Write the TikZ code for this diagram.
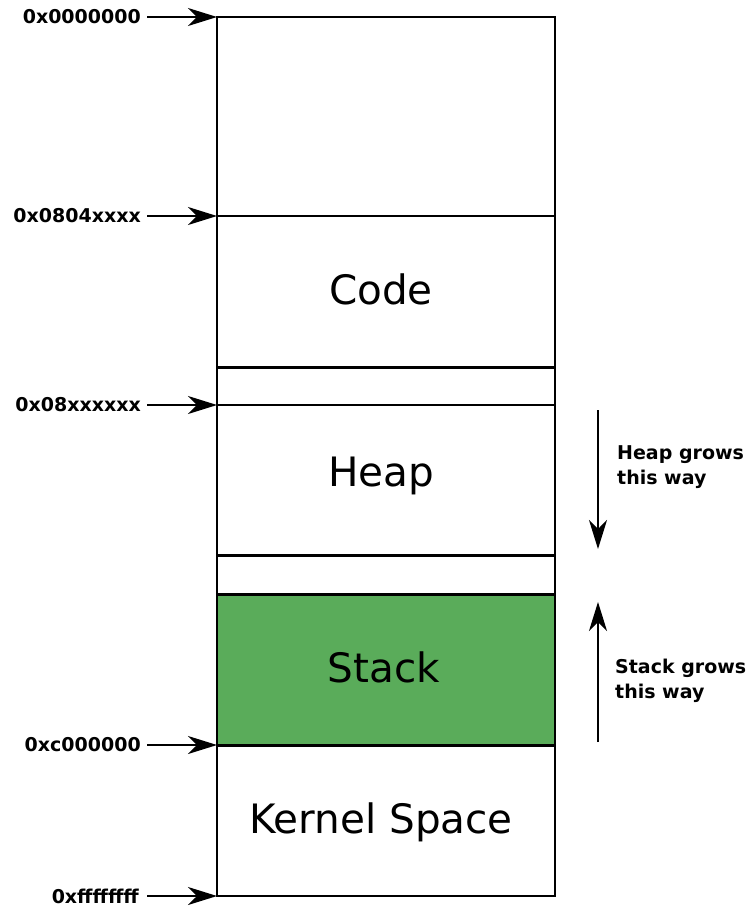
\documentclass[tikz,border=0pt]{standalone}
\usepackage{fontspec}
\setmainfont{DejaVu Sans}
\usetikzlibrary{arrows.meta}
\definecolor{stackgreen}{HTML}{5AAC5A}
\begin{document}
\begin{tikzpicture}[x=1pt,y=-1pt,
  addr/.style={font=\fontsize{19}{22}\selectfont\bfseries, anchor=east, inner sep=0pt},
  region/.style={font=\fontsize{40.5}{46}\selectfont},
  note/.style={font=\fontsize{19}{25}\selectfont\bfseries, align=left, anchor=west, inner sep=0pt},
  ptr/.style={line width=2pt, -{Stealth[length=29pt,width=18pt,inset=9pt]}},
  thin/.style={line width=2pt},
  thick/.style={line width=3pt}]
\useasboundingbox (0,0) rectangle (749,906);
% stack fill
\fill[stackgreen] (217,594) rectangle (555,745);
% outline
\draw[thin] (217,17) rectangle (555,896);
\draw[thin] (217,216) -- (555,216);
\draw[thick] (217,367) -- (555,367);
\draw[thin] (217,405) -- (555,405);
\draw[thick] (217,555) -- (555,555);
\draw[thick] (217,594) -- (555,594);
\draw[thick] (217,745) -- (555,745);
% region labels
\node[region] (code) at (381,289) {Code};
\node[region] (heap) at (381,476) {Heap};
\node[region] (stack) at (384,667) {Stack};
\node[region] (kernel) at (381,822) {Kernel Space};
% address labels
\node[addr] (a0) at (141,17) {0x0000000};
\node[addr] (a1) at (141,216) {0x0804xxxx};
\node[addr] (a2) at (141,405) {0x08xxxxxx};
\node[addr] (a3) at (141,745) {0xc000000};
\node[addr] (a4) at (139,896) {0xffffffff};
\coordinate (e0) at (217,17);
\coordinate (e1) at (217,216);
\coordinate (e2) at (217,405);
\coordinate (e3) at (217,745);
\coordinate (e4) at (217,896);
\draw[ptr] ([xshift=6pt]a0.east) -- (e0);
\draw[ptr] ([xshift=6pt]a1.east) -- (e1);
\draw[ptr] ([xshift=6pt]a2.east) -- (e2);
\draw[ptr] ([xshift=6pt]a3.east) -- (e3);
\draw[ptr] ([xshift=8pt]a4.east) -- (e4);
% growth arrows
\coordinate (h0) at (598,410);
\coordinate (h1) at (598,549);
\coordinate (s0) at (598,742);
\coordinate (s1) at (598,602);
\draw[ptr] (h0) -- (h1);
\draw[ptr] (s0) -- (s1);
\node[note] (hn) at (617,467) {Heap grows\\this way};
\node[note] (sn) at (615,681) {Stack grows\\this way};
\end{tikzpicture}
\end{document}
